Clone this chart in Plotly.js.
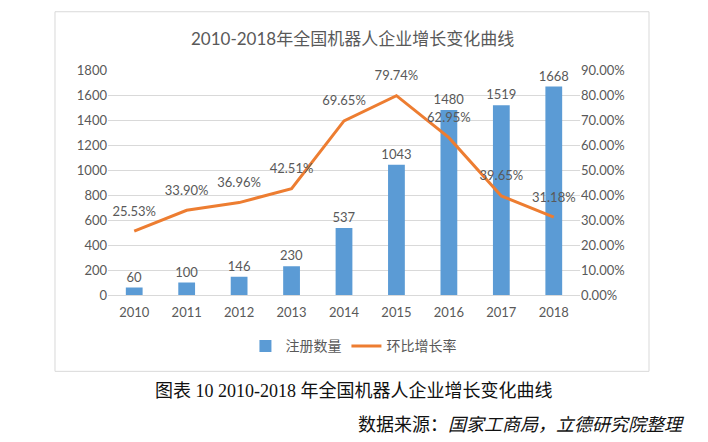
<!DOCTYPE html>
<html>
<head>
<meta charset="utf-8">
<script src="https://cdn.plot.ly/plotly-3.0.1.min.js"></script>
<style>html,body{margin:0;padding:0;background:#fff;}#chart{width:708px;height:442px;}</style>
</head>
<body>
<div id="chart"></div>
<script>
const years = ['2010','2011','2012','2013','2014','2015','2016','2017','2018'];
const registrations = [60, 100, 146, 230, 537, 1043, 1480, 1519, 1668];
const growthRate = [25.53, 33.90, 36.96, 42.51, 69.65, 79.74, 62.95, 39.65, 31.18];
const leftTicks = [0, 200, 400, 600, 800, 1000, 1200, 1400, 1600, 1800];
const rightTicks = [0, 10, 20, 30, 40, 50, 60, 70, 80, 90];
const rightTickText = rightTicks.map(v => v.toFixed(2) + '%');
const seriesNames = ['注册数量', '环比增长率'];
const chartTitle = '2010-2018年全国机器人企业增长变化曲线';
const caption = '图表 10 2010-2018 年全国机器人企业增长变化曲线';
const sourcePrefix = '数据来源：';
const sourceText = '国家工商局，立德研究院整理';

const F = 'Lato, "Noto Sans CJK SC", sans-serif';
const SERIF = '"Liberation Serif", "Noto Sans CJK SC", serif';
const GREY = '#595959';

const traces = [
  {
    type: 'bar', name: seriesNames[0], x: years, y: registrations,
    marker: {color: '#5B9BD5'}, width: 0.32,
    text: registrations.map(String), textposition: 'outside', constraintext: 'none',
    textfont: {family: F, size: 13, color: GREY}, cliponaxis: false,
    hoverinfo: 'x+y'
  },
  {
    type: 'scatter', mode: 'lines+markers+text', name: seriesNames[1],
    x: years, y: growthRate, yaxis: 'y2',
    line: {color: '#ED7D31', width: 3},
    marker: {size: 18, color: 'rgba(0,0,0,0)'},
    text: growthRate.map(v => v.toFixed(2) + '%'), textposition: 'top center',
    textfont: {family: F, size: 13, color: GREY}, cliponaxis: false
  }
];

const layout = {
  width: 708, height: 442,
  margin: {l: 108, r: 128, t: 70, b: 147},
  paper_bgcolor: '#fff', plot_bgcolor: '#fff',
  font: {family: F, color: GREY, size: 13},
  showlegend: true,
  legend: {orientation: 'h', x: 0.52, xanchor: 'center', y: -0.228, yanchor: 'middle',
           font: {family: F, size: 14, color: GREY}, bgcolor: 'rgba(0,0,0,0)'},
  bargap: 0.68,
  xaxis: {type: 'category', range: [-0.5, 8.5], showgrid: false, zeroline: false,
          showline: false, ticks: '', ticklabelstandoff: 8,
          tickfont: {family: F, size: 13, color: GREY}, fixedrange: true},
  yaxis: {range: [0, 1800], tickvals: leftTicks, showgrid: true, gridcolor: '#D9D9D9', gridwidth: 1,
          zeroline: true, zerolinecolor: '#D9D9D9', zerolinewidth: 1, showline: false, ticks: '',
          tickfont: {family: F, size: 13, color: GREY}, fixedrange: true},
  yaxis2: {overlaying: 'y', side: 'right', range: [0, 90], tickvals: rightTicks, ticktext: rightTickText,
           showgrid: false, zeroline: false, showline: false, ticks: '',
           tickfont: {family: F, size: 13, color: GREY}, fixedrange: true},
  shapes: [
    {type: 'rect', xref: 'paper', yref: 'paper', x0: -0.1123, x1: 1.1462, y0: -0.3393, y1: 1.2589,
     line: {color: '#D9D9D9', width: 1}, fillcolor: 'rgba(0,0,0,0)', layer: 'below'}
  ],
  annotations: [
    {xref: 'paper', yref: 'paper', x: 0.517, y: 1.138, xanchor: 'center', yanchor: 'middle',
     text: chartTitle, showarrow: false, font: {family: F, size: 17, color: GREY}},
    {xref: 'paper', yref: 'paper', x: 0.521, y: -0.4286, xanchor: 'center', yanchor: 'middle',
     text: caption, showarrow: false, font: {family: SERIF, size: 18, color: '#111'}},
    {xref: 'paper', yref: 'paper', x: 1.2267, y: -0.5759, xanchor: 'right', yanchor: 'middle',
     text: sourcePrefix + '<i>' + sourceText + '</i>', showarrow: false,
     font: {family: SERIF, size: 18, color: '#111'}}
  ]
};

Plotly.newPlot('chart', traces, layout, {displayModeBar: false, staticPlot: true});
</script>
</body>
</html>
